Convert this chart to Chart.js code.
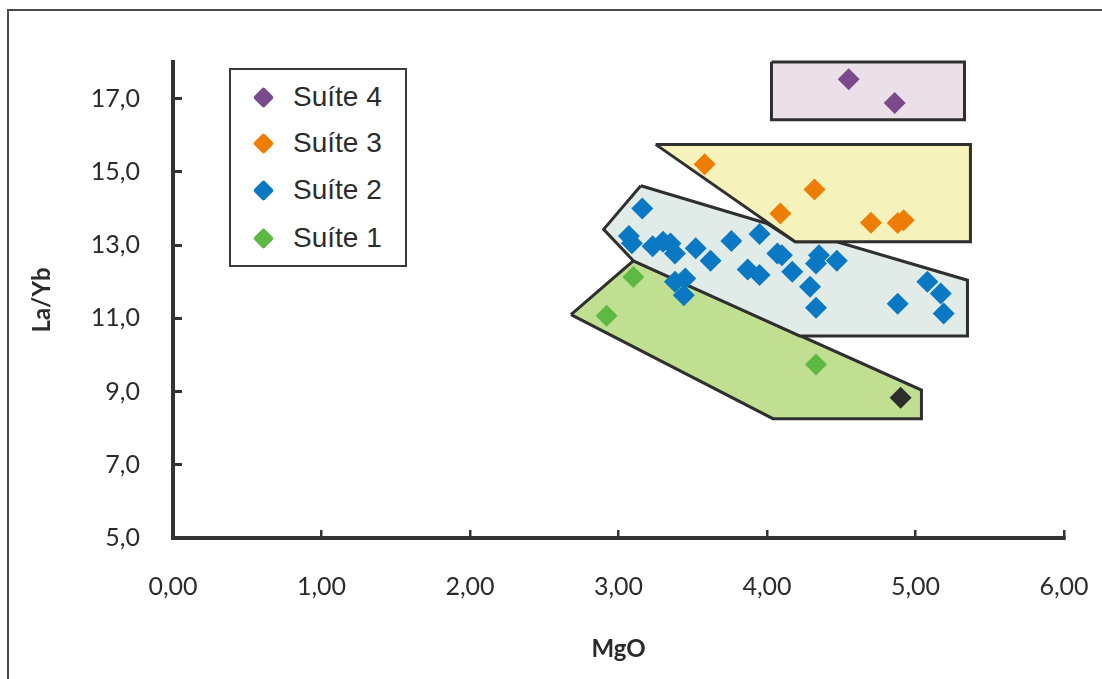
<!DOCTYPE html>
<html>
<head>
<meta charset="utf-8">
<script src="https://cdn.jsdelivr.net/npm/chart.js@4.4.0/dist/chart.umd.min.js"></script>
<style>
  html, body { margin: 0; padding: 0; background: #fff; }
  #wrap { position: relative; width: 1102px; height: 679px; overflow: hidden; }
  #legend {
    position: absolute; left: 229px; top: 68px; width: 178px; height: 199px;
    box-sizing: border-box; border: 2px solid #3a3a3a; background: #fff;
    font-family: "Liberation Sans", Arial, sans-serif; font-size: 28px; color: #2b2b2b;
  }
  #legend .row { position: absolute; left: 0; height: 34px; line-height: 34px; white-space: nowrap; }
  #legend .mk { position: absolute; left: 25px; top: 10px; width: 15px; height: 15px; border-radius: 2px; transform: rotate(45deg); }
  #legend .tx { position: absolute; left: 62px; top: 0; }
</style>
</head>
<body>
<div id="wrap">
  <canvas id="chart" width="1102" height="679"></canvas>
  <div id="legend"></div>
</div>
<script>
// ---- données ----
const xTicks = [0, 1, 2, 3, 4, 5, 6];
const yTicks = [5, 7, 9, 11, 13, 15, 17];

const suite4MgO = [4.55, 4.86];
const suite4LaYb = [17.53, 16.88];

const suite3MgO = [3.58, 4.32, 4.09, 4.70, 4.88, 4.92];
const suite3LaYb = [15.21, 14.52, 13.86, 13.61, 13.60, 13.68];

const suite2MgO = [3.16, 3.07, 3.09, 3.23, 3.30, 3.35, 3.38, 3.52, 3.62, 3.76, 3.95, 4.07, 4.10, 4.35,
  4.33, 4.47, 3.87, 3.95, 4.17, 4.29, 4.33, 3.38, 3.45, 3.44, 4.88, 5.08, 5.17, 5.19];
const suite2LaYb = [14.00, 13.25, 13.05, 12.97, 13.09, 13.04, 12.77, 12.91, 12.57, 13.11, 13.30, 12.77, 12.72, 12.72,
  12.50, 12.57, 12.33, 12.18, 12.27, 11.86, 11.29, 12.00, 12.09, 11.63, 11.40, 12.00, 11.68, 11.13];

const suite1MgO = [3.10, 2.92, 4.33];
const suite1LaYb = [12.13, 11.07, 9.74];

const otherMgO = [4.90];
const otherLaYb = [8.83];

// champs (polygones)
const field4MgO = [4.03, 5.33, 5.33, 4.03, 4.03];
const field4LaYb = [18.0, 18.0, 16.42, 16.42, 18.0];
const field3MgO = [3.25, 5.37, 5.37, 4.19, 3.25];
const field3LaYb = [15.75, 15.75, 13.09, 13.09, 15.75];
const field2MgO = [3.15, 2.90, 3.10, 4.22, 5.35, 5.35, 4.47, 4.19, 4.00, 3.15];
const field2LaYb = [14.62, 13.43, 12.57, 10.52, 10.52, 12.04, 13.09, 13.09, 13.59, 14.62];
const field1MgO = [2.68, 3.10, 5.04, 5.04, 4.04, 2.68];
const field1LaYb = [11.10, 12.57, 9.04, 8.26, 8.26, 11.10];

const seriesNames = ['Suíte 4', 'Suíte 3', 'Suíte 2', 'Suíte 1'];
const seriesColors = ['#7a4a8c', '#ee7d06', '#0a78c2', '#5db944'];

function pts(xs, ys) {
  return xs.map((x, i) => ({ x: x, y: ys[i] }));
}

function pointSet(label, xs, ys, color) {
  return {
    label: label,
    data: pts(xs, ys),
    backgroundColor: color,
    borderColor: color,
    pointStyle: 'rectRot',
    pointRadius: 11,
    borderWidth: 0,
    showLine: false,
    clip: false,
    order: 0
  };
}

function fieldSet(xs, ys, fillColor) {
  return {
    label: '',
    data: pts(xs, ys),
    showLine: true,
    fill: 'shape',
    backgroundColor: fillColor,
    borderColor: '#2f2f2f',
    borderWidth: 3,
    pointRadius: 0,
    tension: 0,
    clip: false,
    order: 10
  };
}

// cadre extérieur
const framePlugin = {
  id: 'frame',
  beforeDraw(chart) {
    const c = chart.ctx;
    c.save();
    c.strokeStyle = '#4a4a4a';
    c.lineWidth = 2;
    c.strokeRect(8, 10, chart.width + 20, chart.height + 20);
    c.restore();
  }
};

const numFont = { family: 'Lato, "Open Sans", sans-serif', size: 25 };
const titleFont = { family: 'Lato, "Open Sans", sans-serif', size: 24, weight: 'bold' };

new Chart(document.getElementById('chart'), {
  type: 'scatter',
  data: {
    datasets: [
      pointSet('Suíte 4', suite4MgO, suite4LaYb, seriesColors[0]),
      pointSet('Suíte 3', suite3MgO, suite3LaYb, seriesColors[1]),
      pointSet('Suíte 2', suite2MgO, suite2LaYb, seriesColors[2]),
      pointSet('Suíte 1', suite1MgO, suite1LaYb, seriesColors[3]),
      pointSet('', otherMgO, otherLaYb, '#2d2d2d'),
      fieldSet(field4MgO, field4LaYb, '#ebe0e7'),
      fieldSet(field3MgO, field3LaYb, '#f5f2bb'),
      fieldSet(field2MgO, field2LaYb, '#e1ece8'),
      fieldSet(field1MgO, field1LaYb, '#c1df91')
    ]
  },
  options: {
    responsive: false,
    animation: false,
    layout: { padding: { left: 0, top: 62, right: 38, bottom: 0 } },
    plugins: {
      legend: { display: false },
      tooltip: { enabled: false }
    },
    scales: {
      x: {
        type: 'linear',
        min: 0, max: 6,
        afterBuildTicks: (s) => { s.ticks = xTicks.map(v => ({ value: v })); },
        afterFit: (s) => { s.height = 141; s.paddingLeft = 0; s.paddingRight = 0; },
        grid: { drawOnChartArea: false, drawTicks: true, tickLength: -8, color: '#333', lineWidth: 2.5 },
        border: { color: '#333', width: 4 },
        ticks: { font: numFont, color: '#2b2b2b', padding: 42, maxRotation: 0,
          callback: (v) => Number(v).toFixed(2).replace('.', ',') },
        title: { display: true, text: 'MgO', font: titleFont, color: '#2b2b2b', padding: { top: 0, bottom: 15 } }
      },
      y: {
        type: 'linear',
        min: 5, max: 18,
        afterBuildTicks: (s) => { s.ticks = yTicks.map(v => ({ value: v })); },
        afterFit: (s) => { s.width = 173; s.paddingTop = 0; s.paddingBottom = 0; },
        grid: { drawOnChartArea: false, drawTicks: true, tickLength: -9, color: '#333', lineWidth: 3 },
        border: { color: '#333', width: 4 },
        ticks: { font: numFont, color: '#2b2b2b', padding: 42,
          callback: (v) => Number(v).toFixed(1).replace('.', ',') },
        title: { display: true, text: 'La/Yb', font: titleFont, color: '#2b2b2b', padding: { top: 28, bottom: 0 } }
      }
    }
  },
  plugins: [framePlugin]
});

// légende (dans le cadre, comme l'original)
const legend = document.getElementById('legend');
const rowCenters = [27, 73, 120, 168];
seriesNames.forEach((name, i) => {
  const row = document.createElement('div');
  row.className = 'row';
  row.style.top = (rowCenters[i] - 17) + 'px';
  row.innerHTML = '<span class="mk" style="background:' + seriesColors[i] + '"></span><span class="tx">' + name + '</span>';
  legend.appendChild(row);
});
</script>
</body>
</html>
